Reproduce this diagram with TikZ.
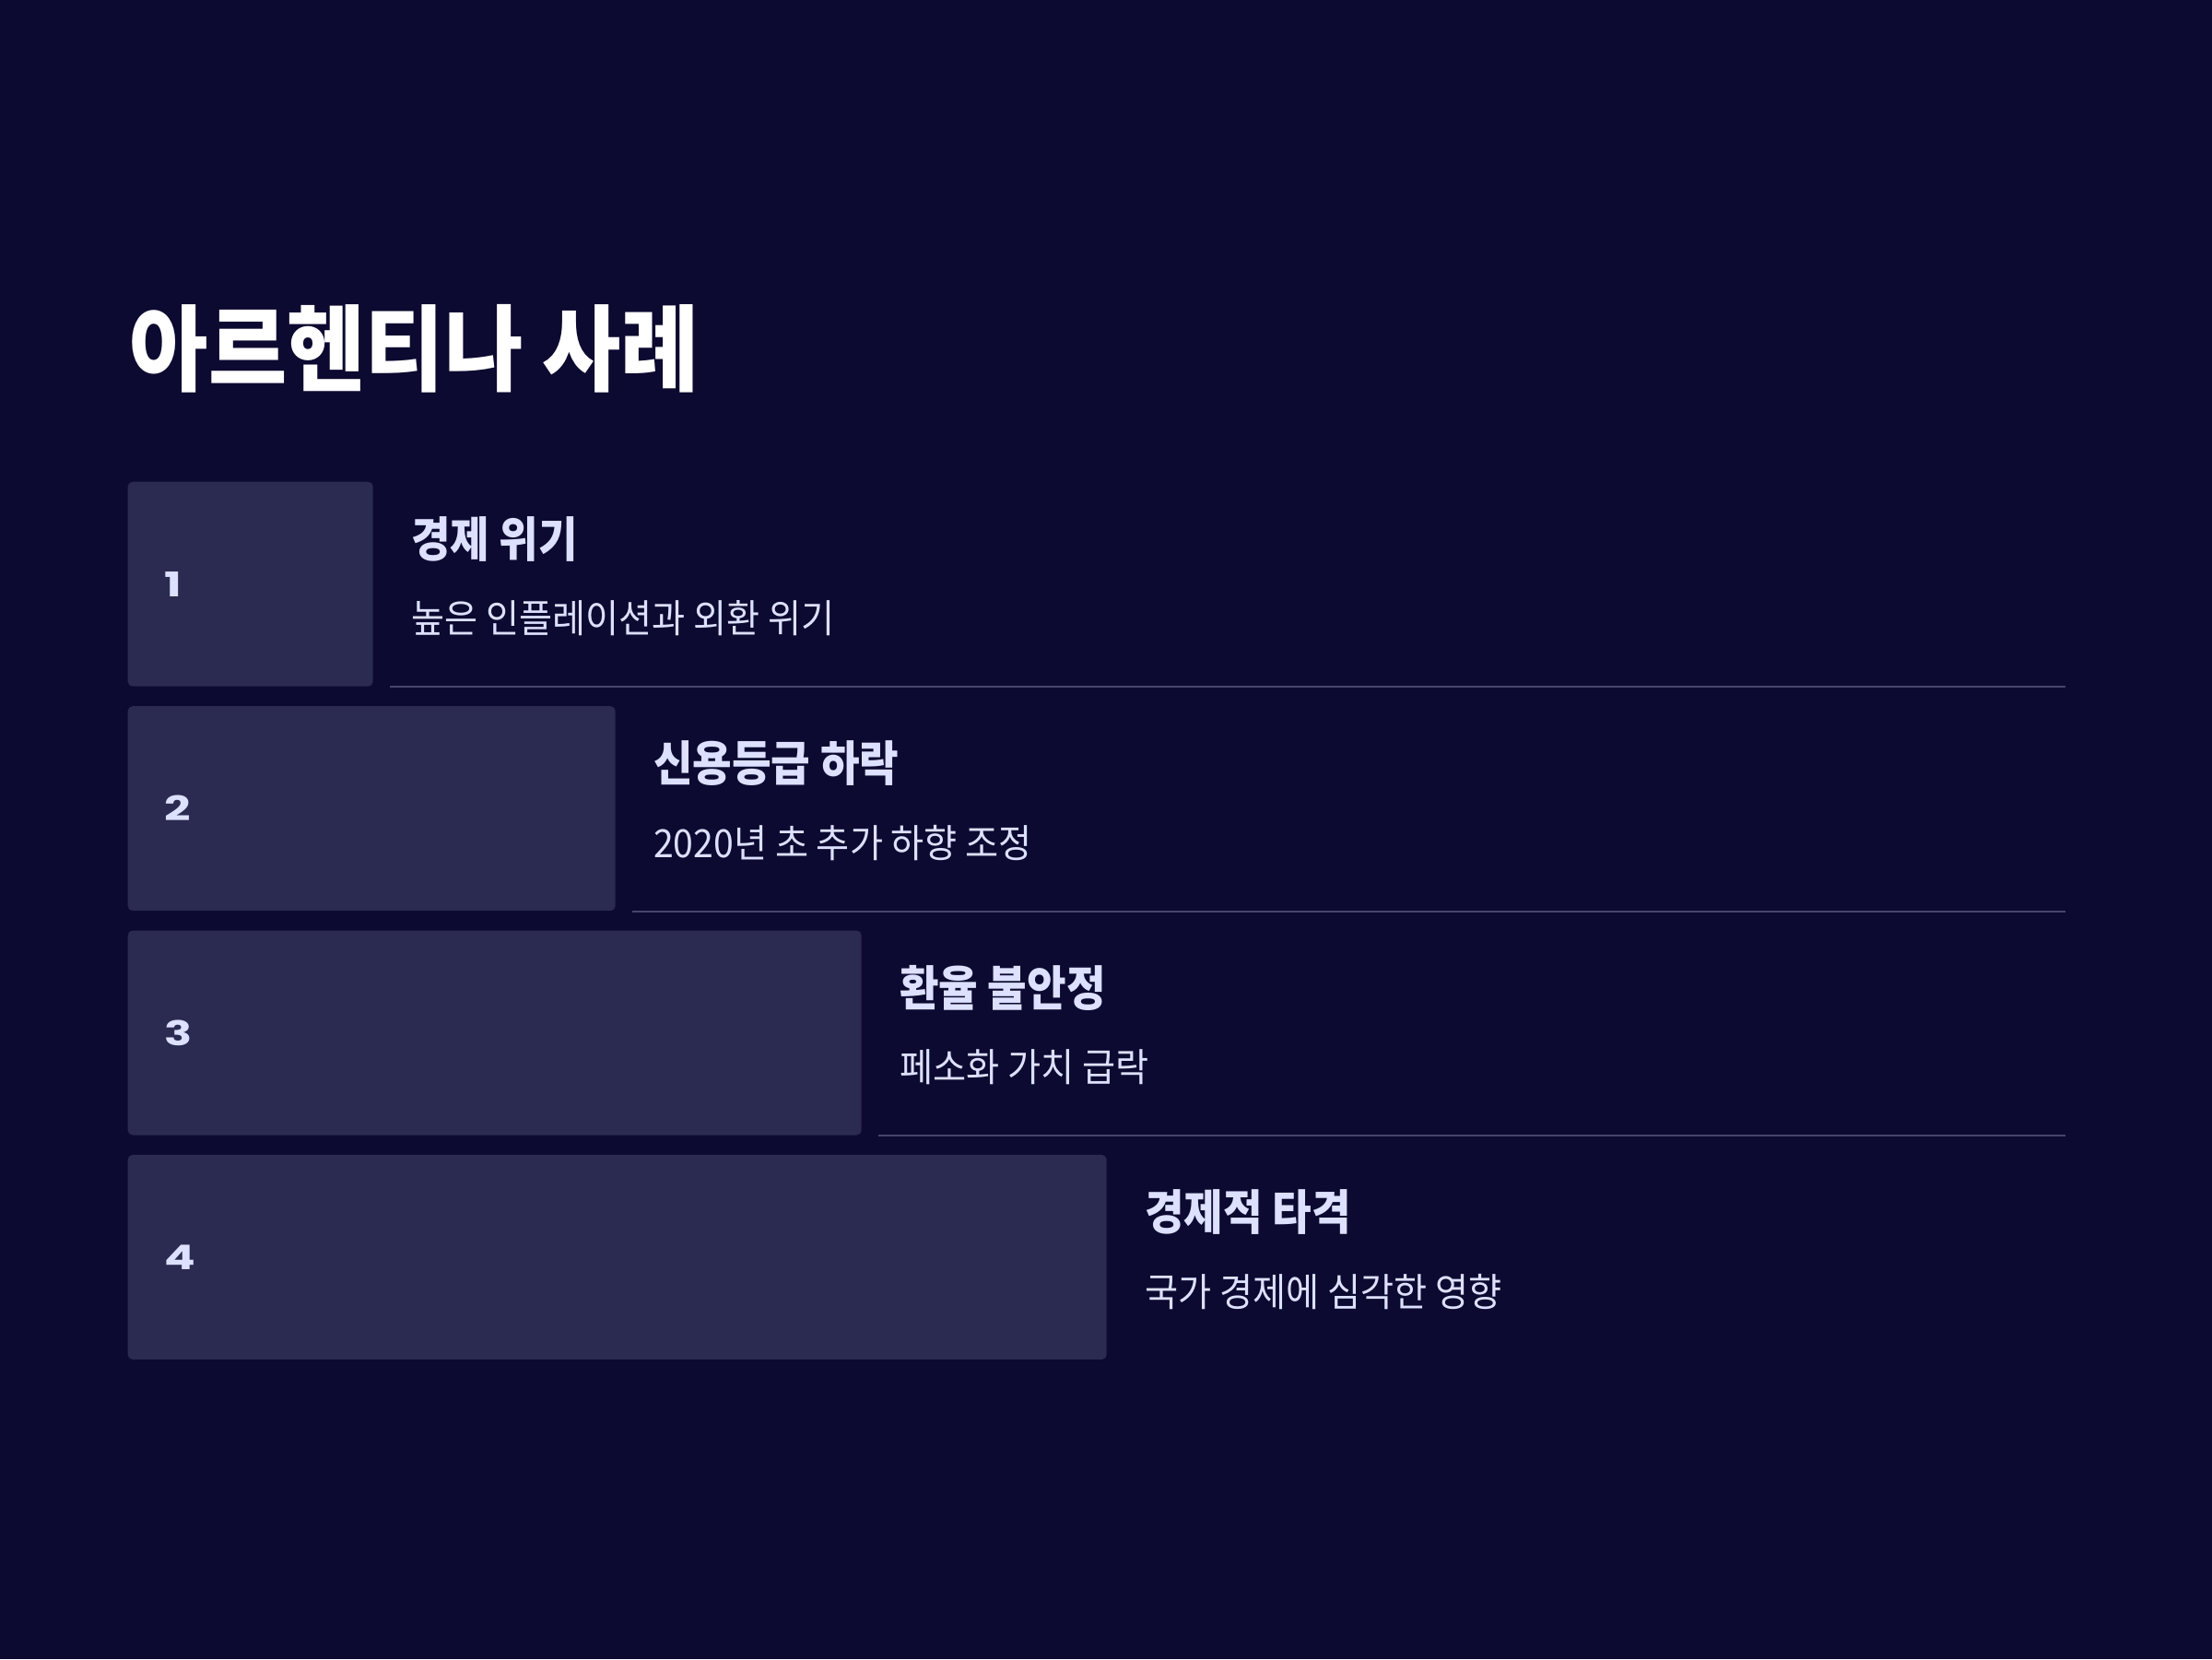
\documentclass[tikz,border=0pt]{standalone}
\usepackage{fontspec}
\setmainfont{Noto Sans CJK KR}[FakeStretch=0.93]
\newfontfamily\titlefont{Noto Sans CJK KR}[FakeStretch=0.91]
\newfontfamily\headfont{Noto Sans CJK KR}[FakeStretch=0.89]
\newfontfamily\numfont{Poppins}[FakeStretch=1.35]
\usetikzlibrary{positioning}
\definecolor{pagebg}{HTML}{0C0A30}
\definecolor{barfill}{HTML}{2B2A50}
\definecolor{lavender}{HTML}{DDE0FF}
\definecolor{rulecol}{HTML}{46456B}

\begin{document}
\begin{tikzpicture}
		[bar/.style = {fill=barfill, rounded corners=1.5pt, minimum height=2.22cm, inner sep=0pt},
		 num/.style = {text=lavender, inner sep=0pt, font=\numfont\bfseries\fontsize{10.5}{12}\selectfont},
		 head/.style = {text=lavender, inner sep=0pt, font=\headfont\bfseries\fontsize{14.8}{18}\selectfont},
		 desc/.style = {text=lavender, inner sep=0pt, font=\fontsize{12}{14}\selectfont},
		 sep/.style = {draw=rulecol, line width=0.6pt}]
		\fill[pagebg] (0,0) rectangle (24,-18);
		\node[anchor=west, inner sep=0pt, text=white, font=\titlefont\bfseries\fontsize{29}{34}\selectfont] (title) at (1.40,-3.78) {아르헨티나 사례};
		\coordinate (rend) at (22.41,0);

		\node[bar, anchor=north west, minimum width=2.66cm] (box1) at (1.38,-5.22) {};
		\node[bar, below=0.2cm of box1.south west, anchor=north west, minimum width=5.29cm] (box2) {};
		\node[bar, below=0.2cm of box2.south west, anchor=north west, minimum width=7.96cm] (box3) {};
		\node[bar, below=0.2cm of box3.south west, anchor=north west, minimum width=10.62cm] (box4) {};

		\node[num, right=0.4cm of box1.west] (n1) {1};
		\node[num, right=0.4cm of box2.west] (n2) {2};
		\node[num, right=0.4cm of box3.west] (n3) {3};
		\node[num, right=0.4cm of box4.west] (n4) {4};

		\node[head, below right=0.63cm and 0.4cm of box1.north east, anchor=west] (h1) {경제 위기};
		\node[desc, below right=1.49cm and 0.4cm of box1.north east, anchor=west] (d1) {높은 인플레이션과 외환 위기};
		\node[head, below right=0.63cm and 0.4cm of box2.north east, anchor=west] (h2) {신용등급 하락};
		\node[desc, below right=1.49cm and 0.4cm of box2.north east, anchor=west] (d2) {2020년 초 추가 하향 조정};
		\node[head, below right=0.63cm and 0.4cm of box3.north east, anchor=west] (h3) {환율 불안정};
		\node[desc, below right=1.49cm and 0.4cm of box3.north east, anchor=west] (d3) {페소화 가치 급락};
		\node[head, below right=0.63cm and 0.4cm of box4.north east, anchor=west] (h4) {경제적 타격};
		\node[desc, below right=1.49cm and 0.4cm of box4.north east, anchor=west] (d4) {국가 경제에 심각한 영향};

		\draw[sep] ([xshift=0.18cm]box1.south east) -- (box1.south east -| rend);
		\draw[sep] ([xshift=0.18cm]box2.south east) -- (box2.south east -| rend);
		\draw[sep] ([xshift=0.18cm]box3.south east) -- (box3.south east -| rend);
	\end{tikzpicture}
\end{document}
